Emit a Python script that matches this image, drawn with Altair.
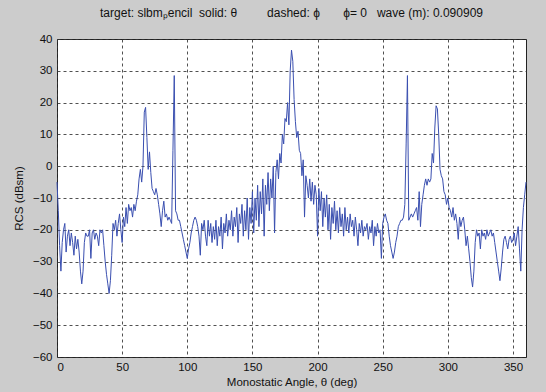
import altair as alt
import pandas as pd

# Monostatic angle (deg), 1-degree steps
angle = list(range(0, 361))

# RCS (dBsm)
rcs = [
    # 0-19
    -5, -14, -25, -33, -24, -20, -18, -27, -22, -20, -25, -21, -24, -28, -22, -26, -23, -27, -33, -37,
    # 20-39
    -33, -24, -21, -22, -22, -20, -29, -21, -20, -23, -21, -22, -25, -20, -21, -20, -25, -30, -34, -37,
    # 40-59
    -40, -36, -28, -18, -20, -17, -22, -18, -15, -20, -24, -16, -19, -13, -18, -12, -14, -13, -16, -12,
    # 60-79
    -14, -11, -9, -4, -1, -5, 0, 17, 18.5, 9, -1, 4.5, -2, -7, -8, -9, -7, -9, -12, -15,
    # 80-99
    -19, -14, -11, -16, -15, -17, -16, -17, -18, 5, 28.5, -14, -15, -17, -17, -19, -21, -23, -25, -27,
    # 100-119
    -29, -26, -24, -21, -19, -17, -16, -17, -19, -22, -28, -18, -20, -17, -22, -25, -17, -22, -18, -24,
    # 120-139
    -19, -23, -17, -25, -19, -22, -16, -26, -18, -21, -15, -22, -17, -20, -14, -22, -16, -19, -13, -24,
    # 140-159
    -15, -18, -12, -22, -14, -20, -10, -23, -13, -18, -8, -21, -10, -17, -6, -19, -8, -15, -4, -22,
    # 160-179
    -6, -12, -2, -14, -4, -10, 0, -21, -2, 2, -4, 4, 1, 10, 7, 15, 14, 20, 13, 30,
    # 180-199
    36.5, 33, 21, 14, 9, 11, 5, 4, -3, 2, -16, -3, -6, -10, -4, -11, -5, -12, -6, -9,
    # 200-219
    -22, -7, -14, -8, -19, -10, -16, -9, -20, -12, -23, -13, -18, -11, -20, -14, -21, -13, -19, -15,
    # 220-239
    -22, -13, -20, -16, -21, -15, -19, -17, -22, -16, -20, -25, -18, -21, -17, -22, -19, -20, -18, -23,
    # 240-259
    -19, -21, -17, -25, -19, -22, -18, -21, -20, -29, -18, -16, -15, -17, -18, -22, -25, -27, -29, -27,
    # 260-279
    -24, -22, -19, -18, -17, -17, -16, -12, 7, 28.5, -17, -16, -15, -16, -15, -14, -13, -17, -8, -19,
    # 280-299
    -12, -9, -6, -4, -6, -4, -5, -4, 4, 1, 12, 19, 18, 10, -1, -3, -4, -8, -9, -12,
    # 300-319
    -10, -13, -14, -16, -13, -17, -15, -18, -23, -16, -19, -17, -16, -20, -25, -22, -26, -30, -35, -38,
    # 320-339
    -33, -24, -20, -22, -21, -26, -20, -22, -21, -23, -20, -22, -21, -20, -22, -21, -24, -27, -30, -33,
    # 340-360
    -36, -32, -27, -23, -22, -24, -26, -23, -22, -24, -23, -21, -25, -22, -19, -26, -33, -20, -13, -9, -5,
]

x_ticks = [0, 50, 100, 150, 200, 250, 300, 350]
y_ticks = [-60, -50, -40, -30, -20, -10, 0, 10, 20, 30, 40]

df = pd.DataFrame({"angle": angle, "rcs": rcs})

FONT = "Liberation Sans"
NB = "\u00a0"

line = alt.Chart(df).mark_line(color="#3a4fb0", strokeWidth=1).encode(
    x=alt.X(
        "angle:Q",
        scale=alt.Scale(domain=[0, 360], nice=False, zero=False),
        axis=alt.Axis(
            values=x_ticks,
            title="Monostatic Angle, θ (deg)",
            titlePadding=4,
            labelPadding=4,
            tickSize=0,
            domain=False,
        ),
    ),
    y=alt.Y(
        "rcs:Q",
        scale=alt.Scale(domain=[-60, 40], nice=False, zero=False),
        axis=alt.Axis(
            values=y_ticks,
            title="RCS (dBsm)",
            titlePadding=8,
            labelPadding=5,
            tickSize=0,
            domain=False,
        ),
    ),
)

title_text = (
    "target: slbmₚencil" + NB * 2 + "solid: θ" + NB * 9
    + "dashed: ϕ" + NB * 7 + "ϕ= 0" + NB * 3 + "wave (m): 0.090909"
)

chart = (
    line.properties(
        width=469,
        height=318,
        title=alt.Title(
            title_text,
            font=FONT,
            fontSize=12,
            fontWeight="normal",
            color="#111111",
            anchor="middle",
            offset=13,
        ),
        autosize=alt.AutoSizeParams(type="none"),
        padding={"left": 57, "top": 39, "right": 20, "bottom": 35},
        background="#cccccc",
    )
    .configure_view(fill="white", stroke="#222222", strokeWidth=1)
    .configure_axis(
        grid=True,
        gridColor="#333333",
        gridDash=[3, 3],
        gridWidth=1,
        gridOpacity=0.85,
        labelFont=FONT,
        labelFontSize=11.5,
        labelColor="#111111",
        titleFont=FONT,
        titleFontSize=11.5,
        titleFontWeight="normal",
        titleColor="#111111",
    )
)

chart.save("out.html", embed_options={"renderer": "svg", "actions": False})
